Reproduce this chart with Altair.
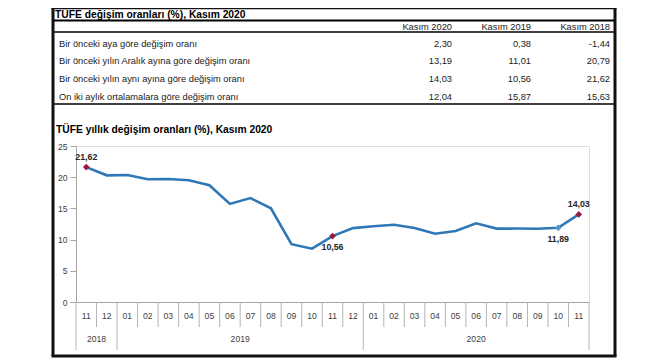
import altair as alt
import pandas as pd

FONT = "Liberation Sans"

# ---- data -------------------------------------------------------------
months = ["2018-11", "2018-12",
          "2019-01", "2019-02", "2019-03", "2019-04", "2019-05", "2019-06",
          "2019-07", "2019-08", "2019-09", "2019-10", "2019-11", "2019-12",
          "2020-01", "2020-02", "2020-03", "2020-04", "2020-05", "2020-06",
          "2020-07", "2020-08", "2020-09", "2020-10", "2020-11"]
tufe = [21.62, 20.30, 20.35, 19.67, 19.71, 19.50, 18.71, 15.72, 16.65, 15.01,
        9.26, 8.55, 10.56, 11.84, 12.15, 12.37, 11.86, 10.94, 11.39, 12.62,
        11.76, 11.77, 11.75, 11.89, 14.03]
red_idx = [0, 12, 24]
blue_idx = [23]
above_idx = [0, 24]
below_idx = [12, 23]

year_names = ["2018", "2019", "2020"]
year_start = ["2018-11", "2019-01", "2020-01"]

row_labels = ["Bir önceki aya göre değişim oranı",
              "Bir önceki yılın Aralık ayına göre değişim oranı",
              "Bir önceki yılın aynı ayına göre değişim oranı",
              "On iki aylık ortalamalara göre değişim oranı"]
col_headers = ["Kasım 2020", "Kasım 2019", "Kasım 2018"]
kasim_2020 = [2.30, 13.19, 14.03, 12.04]
kasim_2019 = [0.38, 11.01, 10.56, 15.87]
kasim_2018 = [-1.44, 20.79, 21.62, 15.63]

table_title = "TÜFE değişim oranları (%), Kasım 2020"
chart_title = "TÜFE yıllık değişim oranları (%), Kasım 2020"


def tr(v):
    return f"{v:.2f}".replace(".", ",")


# ---- frames -----------------------------------------------------------
df = pd.DataFrame({"ay": months, "deger": tufe})
df["etiket"] = [tr(v) for v in tufe]
red_df = df.iloc[red_idx]
blue_df = df.iloc[blue_idx]
above_df = df.iloc[above_idx]
below_df = df.iloc[below_idx]

short_df = pd.DataFrame({"ay": [m for m in months if m not in year_start]})
long_df = pd.DataFrame({"ay": year_start})
end_df = pd.DataFrame({"ay": [months[-1]]})

yl_a = pd.DataFrame({"ay": ["2018-12", "2019-07"], "yil": year_names[:2]})
yl_b = pd.DataFrame({"ay": ["2020-06"], "yil": [year_names[2]]})

cols = [kasim_2020, kasim_2019, kasim_2018]
trows = []
for c, vals in enumerate(cols):
    for r, v in enumerate(vals):
        trows.append({"kol": c, "satir": r, "metin": tr(v)})
tval_df = pd.DataFrame(trows)
thead_df = pd.DataFrame({"kol": [0, 1, 2], "satir": [-0.92, -0.92, -0.92], "metin": col_headers})
tlab_df = pd.DataFrame({"satir": [0, 1, 2, 3], "metin": row_labels})
one = pd.DataFrame({"a": [0]})

AX_FS = 8.6

# ---- line chart -------------------------------------------------------
xscale = alt.Scale(type="band", paddingInner=0, paddingOuter=0, domain=months)
xaxis = alt.Axis(title=None, labelExpr="slice(datum.value, 5)", labelAngle=0,
                 ticks=False, domainColor="#a6a6a6", labelColor="#404040",
                 labelFontSize=AX_FS, labelFont=FONT, labelPadding=9)
X = alt.X("ay:N", scale=xscale, axis=xaxis, sort=months)
Y = alt.Y("deger:Q", scale=alt.Scale(domain=[0, 25], nice=False),
          axis=alt.Axis(title=None, values=[0, 5, 10, 15, 20, 25], grid=False,
                        tickSize=6, labelPadding=3, domainColor="#a6a6a6",
                        tickColor="#a6a6a6", labelColor="#404040",
                        labelFontSize=AX_FS, labelFont=FONT))

line = alt.Chart(df).mark_line(color="#2E78B7", strokeWidth=2.6).encode(x=X, y=Y)
red_pts = alt.Chart(red_df).mark_point(shape="diamond", filled=True, size=45,
                                       color="#9B1B3C", opacity=1).encode(x=X, y=Y)
blue_pts = alt.Chart(blue_df).mark_point(shape="diamond", filled=True, size=45,
                                         color="#5B93CB", opacity=1).encode(x=X, y=Y)
lab_above = alt.Chart(above_df).mark_text(font=FONT, fontSize=8.8, fontWeight="bold",
                                          color="#262626", dy=-10).encode(
    x=X, y=Y, text="etiket:N")
lab_below = alt.Chart(below_df).mark_text(font=FONT, fontSize=8.8, fontWeight="bold",
                                          color="#262626", dy=11).encode(
    x=X, y=Y, text="etiket:N")

XT = alt.X("ay:N", scale=xscale, axis=xaxis, sort=months, bandPosition=0)
short_ticks = alt.Chart(short_df).mark_rule(color="#b4b4b4", strokeWidth=1).encode(
    x=XT, y=alt.value(156), y2=alt.value(181))
long_ticks = alt.Chart(long_df).mark_rule(color="#b4b4b4", strokeWidth=1).encode(
    x=XT, y=alt.value(156), y2=alt.value(204))
end_tick = alt.Chart(end_df).mark_rule(color="#b4b4b4", strokeWidth=1).encode(
    x=alt.X("ay:N", scale=xscale, axis=xaxis, sort=months, bandPosition=1),
    y=alt.value(156), y2=alt.value(204))
year_a = alt.Chart(yl_a).mark_text(font=FONT, fontSize=AX_FS, color="#404040").encode(
    x=XT, y=alt.value(193), text="yil:N")
year_b = alt.Chart(yl_b).mark_text(font=FONT, fontSize=AX_FS, color="#404040").encode(
    x=alt.X("ay:N", scale=xscale, axis=xaxis, sort=months, bandPosition=0.5),
    y=alt.value(193), text="yil:N")

chart_part = alt.layer(short_ticks, long_ticks, end_tick, line, red_pts, blue_pts,
                       lab_above, lab_below, year_a, year_b)

# ---- table ------------------------------------------------------------
TFS = 9.3
TY = alt.Y("satir:Q", scale=alt.Scale(domain=[0, 3], range=[-102.3, -49.3], nice=False, zero=False),
           axis=None)
TX = alt.X("kol:Q", scale=alt.Scale(domain=[0, 2], range=[376, 534], nice=False, zero=False),
           axis=None)
tvals = alt.Chart(tval_df).mark_text(font=FONT, fontSize=TFS, color="#1a1a1a",
                                     align="right", baseline="middle").encode(
    x=TX, y=TY, text="metin:N")
thead = alt.Chart(thead_df).mark_text(font=FONT, fontSize=TFS, color="#1a1a1a",
                                      align="right", baseline="middle").encode(
    x=TX, y=TY, text="metin:N")
tlabs = alt.Chart(tlab_df).mark_text(font=FONT, fontSize=TFS, color="#1a1a1a",
                                     align="left", baseline="middle").encode(
    x=alt.value(-17), y=TY, text="metin:N")

t1 = alt.Chart(one).mark_text(font=FONT, fontSize=10.3, fontWeight="bold", color="#000",
                              align="left", baseline="middle").encode(
    x=alt.value(-21), y=alt.value(-131), text=alt.value(table_title))
t2 = alt.Chart(one).mark_text(font=FONT, fontSize=10.3, fontWeight="bold", color="#000",
                              align="left", baseline="middle").encode(
    x=alt.value(-20), y=alt.value(-16), text=alt.value(chart_title))


def hrule(y, w, c="#000"):
    return alt.Chart(one).mark_rule(color=c, strokeWidth=w).encode(
        x=alt.value(-22), x2=alt.value(538), y=alt.value(y))


rules = [hrule(-125.5, 1.8), hrule(-114, 1.5), hrule(-42, 1.5)]

frame_left = alt.Chart(one).mark_rule(color="#111", strokeWidth=3).encode(
    x=alt.value(-23), y=alt.value(-138), y2=alt.value(210))
frame_right = alt.Chart(one).mark_rule(color="#111", strokeWidth=3).encode(
    x=alt.value(539), y=alt.value(-138), y2=alt.value(210))
frame_bottom = alt.Chart(one).mark_rule(color="#111", strokeWidth=3).encode(
    x=alt.value(-24.5), x2=alt.value(540.5), y=alt.value(210))
frame_top = alt.Chart(one).mark_rule(color="#111", strokeWidth=1.2).encode(
    x=alt.value(-24.5), x2=alt.value(540.5), y=alt.value(-137.4))

table_part = alt.layer(tvals, thead, tlabs, t1, t2, *rules,
                       frame_left, frame_right, frame_bottom, frame_top)

chart = alt.layer(chart_part, table_part).resolve_scale(
    x="independent", y="independent"
).properties(
    width=513, height=156,
    padding={"left": 68, "top": 138, "right": 40, "bottom": 60},
    autosize=alt.AutoSizeParams(type="none"),
).configure_view(stroke=None).configure(background="white")

chart.save("out.html", embed_options={"renderer": "svg", "actions": False})
